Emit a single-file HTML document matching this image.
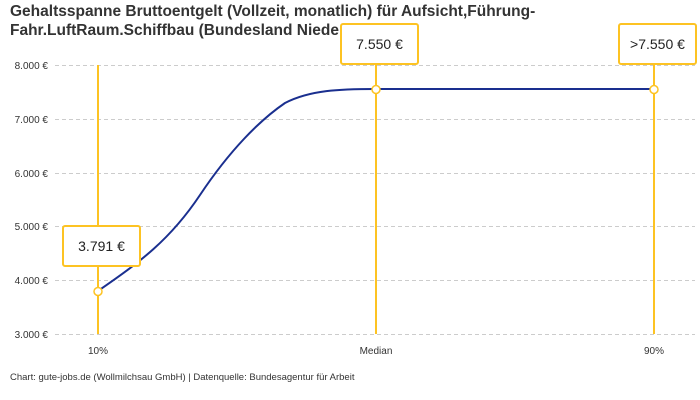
<!DOCTYPE html><html><head><meta charset="utf-8"><style>body{margin:0;background:#fff}svg{display:block;font-family:"Liberation Sans",sans-serif}</style></head><body>
<svg width="700" height="400" viewBox="0 0 700 400">
<text x="10" y="16" font-size="15.5" font-weight="bold" fill="#333">Gehaltsspanne Bruttoentgelt (Vollzeit, monatlich) für Aufsicht,Führung-</text>
<text x="10" y="35" font-size="15.5" font-weight="bold" fill="#333">Fahr.LuftRaum.Schiffbau (Bundesland Niedersachsen)</text>
<g stroke="#ccc" stroke-dasharray="4,3" stroke-width="1">
<line x1="55" x2="695" y1="65.5" y2="65.5"/><line x1="55" x2="695" y1="119.5" y2="119.5"/><line x1="55" x2="695" y1="173.5" y2="173.5"/><line x1="55" x2="695" y1="226.5" y2="226.5"/><line x1="55" x2="695" y1="280.5" y2="280.5"/><line x1="55" x2="695" y1="334.5" y2="334.5"/></g>
<g font-size="10" fill="#333" text-anchor="end">
<text x="48" y="69">8.000 €</text><text x="48" y="123">7.000 €</text><text x="48" y="177">6.000 €</text><text x="48" y="230">5.000 €</text><text x="48" y="284">4.000 €</text><text x="48" y="338">3.000 €</text></g>
<g font-size="10" fill="#333" text-anchor="middle"><text x="98" y="354">10%</text><text x="376" y="354">Median</text><text x="654" y="354">90%</text></g>
<text x="10" y="380" font-size="9.5" fill="#333">Chart: gute-jobs.de (Wollmilchsau GmbH) | Datenquelle: Bundesagentur für Arbeit</text>
<g stroke="#fdc323" stroke-width="2"><line x1="98" x2="98" y1="65" y2="334"/><line x1="376" x2="376" y1="64" y2="334"/><line x1="654" x2="654" y1="64" y2="334"/></g>
<path d="M98 291 C140 262 170 240 200 195 C230 150 260 120 285 103 C310 90 340 89 376 89 L654 89" fill="none" stroke="#1a2f8f" stroke-width="2"/>
<g fill="#fff" stroke="#fdc323" stroke-width="1.5"><circle cx="98" cy="291.5" r="4"/><circle cx="376" cy="89.5" r="4"/><circle cx="654" cy="89.5" r="4"/></g>
<g fill="#fff" stroke="#fdc323" stroke-width="2"><rect x="63" y="226" width="77" height="40" rx="2"/><rect x="341" y="24" width="77" height="40" rx="2"/><rect x="619" y="24" width="77" height="40" rx="2"/></g>
<g font-size="14" fill="#222" text-anchor="middle"><text x="101.5" y="251">3.791 €</text><text x="379.5" y="49">7.550 €</text><text x="657.5" y="49">&gt;7.550 €</text></g>
</svg></body></html>
